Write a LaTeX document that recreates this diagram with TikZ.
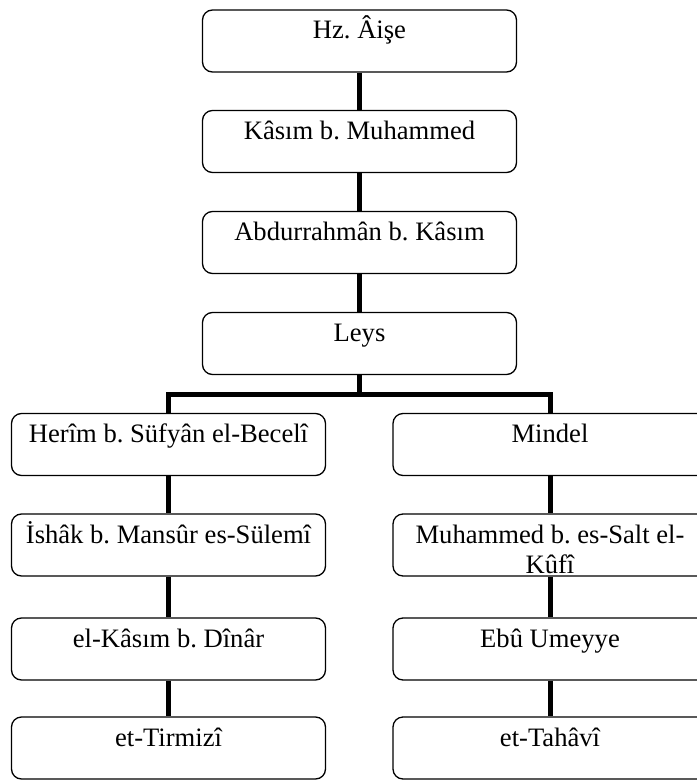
\documentclass[tikz,border=0pt]{standalone}
\usepackage{fontspec}
\setmainfont{Liberation Serif}
\frenchspacing
\begin{document}
\begin{tikzpicture}[x=1bp,y=-1bp,
  person/.style={draw, line width=1.3bp, rounded corners=10bp,
    minimum width=314bp, minimum height=62bp, inner sep=0pt,
    text height=29bp, text depth=33bp,
    font=\fontsize{26.6bp}{30.5bp}\selectfont},
  link/.style={line width=5bp}]
\clip (0,0) rectangle (697,780);
% main chain
\node[person] (aise)  at (359.5,41)    {Hz. Âişe};
\node[person] (kasim) at (359.5,141.5) {Kâsım b. Muhammed};
\node[person] (abdur) at (359.5,242.5) {Abdurrahmân b. Kâsım};
\node[person] (leys)  at (359.5,343.5) {Leys};
% left branch
\node[person] (herim)  at (168.5,444.5) {Herîm b. Süfyân el-Becelî};
\node[person] (ishak)  at (168.5,545)   {İshâk b. Mansûr es-Sülemî};
\node[person] (kdinar) at (168.5,649)   {el-Kâsım b. Dînâr};
\node[person] (tirmizi) at (168.5,748)  {et-Tirmizî};
% right branch
\node[person] (mindel) at (550,444.5) {Mindel};
\node[person] (salt)   at (550,545)   {\begin{tabular}[t]{@{}c@{}}Muhammed b. es-Salt el-\\Kûfî\end{tabular}};
\node[person] (umeyye) at (550,649)   {Ebû Umeyye};
\node[person] (tahavi) at (550,748)   {et-Tahâvî};
% connectors
\draw[link] (aise) -- (kasim);
\draw[link] (kasim) -- (abdur);
\draw[link] (abdur) -- (leys);
\coordinate (fork) at (359.5,394);
\draw[link] (leys.south) -- (fork);
\draw[link, line join=miter] (herim.north) -- (herim.north |- fork) -- (mindel.north |- fork) -- (mindel.north);
\draw[link] (herim) -- (ishak);
\draw[link] (ishak) -- (kdinar);
\draw[link] (kdinar) -- (tirmizi);
\draw[link] (mindel) -- (salt);
\draw[link] (salt) -- (umeyye);
\draw[link] (umeyye) -- (tahavi);
\end{tikzpicture}
\end{document}
